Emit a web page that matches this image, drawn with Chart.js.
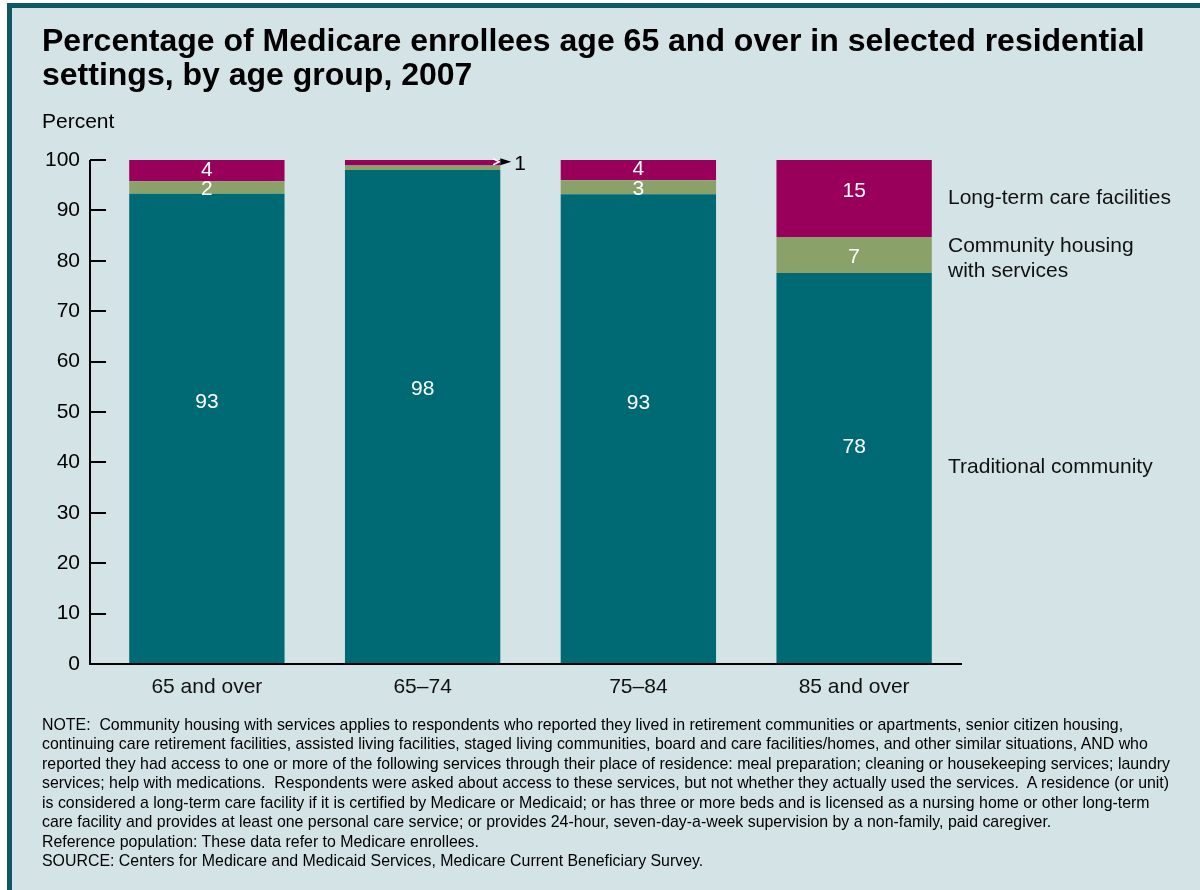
<!DOCTYPE html>
<html>
<head>
<meta charset="utf-8">
<script src="https://cdn.jsdelivr.net/npm/chart.js@4.4.1/dist/chart.umd.min.js"></script>
<style>
  html, body { margin: 0; padding: 0; background: #ffffff; }
  body { width: 1200px; height: 890px; position: relative; overflow: hidden; font-family: "Liberation Sans", Arial, sans-serif; }
  #panel { position: absolute; left: 7px; top: 3px; width: 1188px; height: 882px; background: #D4E3E6;
           border-top: 5px solid #0D5862; border-left: 5px solid #0D5862; }
  #chartWrap { position: absolute; left: 0; top: 0; width: 1200px; height: 890px; }
  .t { position: absolute; white-space: pre; color: #000; }
  #title { left: 42px; top: 23px; font-weight: bold; font-size: 32px; line-height: 34px; color: #000; }
  #note { left: 42px; top: 715px; font-size: 15.9px; line-height: 19.45px; color: #000; }
</style>
</head>
<body>
<div id="panel"></div>
<div id="chartWrap"><canvas id="c" width="1200" height="890"></canvas></div>
<div class="t" id="title">Percentage of Medicare enrollees age 65 and over in selected residential
settings, by age group, 2007</div>
<div class="t" id="note">NOTE:  Community housing with services applies to respondents who reported they lived in retirement communities or apartments, senior citizen housing,
continuing care retirement facilities, assisted living facilities, staged living communities, board and care facilities/homes, and other similar situations, AND who
reported they had access to one or more of the following services through their place of residence: meal preparation; cleaning or housekeeping services; laundry
services; help with medications.  Respondents were asked about access to these services, but not whether they actually used the services.  A residence (or unit)
is considered a long-term care facility if it is certified by Medicare or Medicaid; or has three or more beds and is licensed as a nursing home or other long-term
care facility and provides at least one personal care service; or provides 24-hour, seven-day-a-week supervision by a non-family, paid caregiver.
Reference population: These data refer to Medicare enrollees.
SOURCE: Centers for Medicare and Medicaid Services, Medicare Current Beneficiary Survey.</div>
<script>
// ---- Data ----
const categories = ["65 and over", "65\u201374", "75\u201384", "85 and over"];
const traditional = [93.3, 98.0, 93.2, 77.6];
const communityHousing = [2.5, 0.9, 2.8, 7.1];
const longTermCare = [4.2, 1.1, 4.0, 15.3];
const traditionalLabels = ["93", "98", "93", "78"];
const communityLabels = ["2", "", "3", "7"];
const longTermLabels = ["4", "1", "4", "15"];
const seriesNames = ["Traditional community", "Community housing\nwith services", "Long-term care facilities"];
const yTicks = [0, 10, 20, 30, 40, 50, 60, 70, 80, 90, 100];

const COL_TEAL = "#006A74";
const COL_GREEN = "#8AA26A";
const COL_MAG = "#99005C";
const FONT = '"Liberation Sans", Arial, sans-serif';
const FS = 21;

const decorPlugin = {
  id: "decor",
  afterDraw(chart) {
    const ctx = chart.ctx;
    const y = chart.scales.y;
    const axisX = 90;
    ctx.save();
    // axes
    ctx.strokeStyle = "#000";
    ctx.lineWidth = 2;
    ctx.beginPath();
    ctx.moveTo(axisX, y.getPixelForValue(100));
    ctx.lineTo(axisX, y.getPixelForValue(0));
    ctx.lineTo(chart.chartArea.right, y.getPixelForValue(0));
    ctx.stroke();
    yTicks.forEach(v => {
      const py = Math.round(y.getPixelForValue(v));
      ctx.beginPath();
      ctx.moveTo(axisX, py);
      ctx.lineTo(axisX + 16, py);
      ctx.stroke();
    });
    // segment labels
    ctx.font = FS + "px " + FONT;
    ctx.textAlign = "center";
    ctx.textBaseline = "middle";
    const labelSets = [traditionalLabels, communityLabels, longTermLabels];
    const fracs = [0.56, 0.5, 0.62];
    chart.data.datasets.forEach((ds, di) => {
      const meta = chart.getDatasetMeta(di);
      meta.data.forEach((bar, i) => {
        const txt = labelSets[di][i];
        if (!txt) return;
        const base = bar.base, top = bar.y;
        const h = base - top;
        if (h < 12) {
          // outside annotation with arrow
          const right = bar.x + bar.width / 2;
          const cy = (top + base) / 2 - 1;
          ctx.strokeStyle = "#fff";
          ctx.lineWidth = 1.5;
          ctx.beginPath();
          ctx.moveTo(right - 7, cy - 3);
          ctx.lineTo(right - 1, cy);
          ctx.lineTo(right - 7, cy + 3);
          ctx.stroke();
          ctx.fillStyle = "#000";
          ctx.beginPath();
          ctx.moveTo(right, cy - 3.5);
          ctx.lineTo(right + 11, cy);
          ctx.lineTo(right, cy + 3.5);
          ctx.closePath();
          ctx.fill();
          ctx.textAlign = "left";
          ctx.fillText(txt, right + 14, cy + 2);
          ctx.textAlign = "center";
          return;
        }
        ctx.fillStyle = "#fff";
        ctx.fillText(txt, bar.x, base - h * fracs[di] + 2);
      });
    });
    // series labels at right
    ctx.fillStyle = "#111";
    ctx.textAlign = "left";
    const lx = 948;
    const last = categories.length - 1;
    const tradMeta = chart.getDatasetMeta(0).data[last];
    const commMeta = chart.getDatasetMeta(1).data[last];
    const ltcMeta = chart.getDatasetMeta(2).data[last];
    const drawLines = (name, cy) => {
      const lines = name.split("\n");
      const lh = 25;
      const start = cy - (lines.length - 1) * lh / 2;
      lines.forEach((l, k) => ctx.fillText(l, lx, start + k * lh));
    };
    drawLines(seriesNames[2], ltcMeta.y + (ltcMeta.base - ltcMeta.y) * 0.47 + 2);
    drawLines(seriesNames[1], (commMeta.y + commMeta.base) / 2 + 3.5);
    drawLines(seriesNames[0], tradMeta.base - (tradMeta.base - tradMeta.y) * 0.51 + 3);
    // Percent label
    ctx.fillStyle = "#000";
    ctx.fillText("Percent", 42, 122);
    ctx.restore();
  }
};

new Chart(document.getElementById("c"), {
  type: "bar",
  data: {
    labels: categories,
    datasets: [
      { label: seriesNames[0], data: traditional, backgroundColor: COL_TEAL },
      { label: seriesNames[1], data: communityHousing, backgroundColor: COL_GREEN },
      { label: seriesNames[2], data: longTermCare, backgroundColor: COL_MAG }
    ]
  },
  options: {
    responsive: false,
    animation: false,
    layout: { padding: { left: 0, right: 238, top: 160, bottom: 0 } },
    datasets: { bar: { categoryPercentage: 1, barPercentage: 0.72, borderWidth: 0 } },
    plugins: { legend: { display: false }, tooltip: { enabled: false }, title: { display: false } },
    scales: {
      x: {
        stacked: true,
        grid: { display: false, drawTicks: false },
        border: { display: false },
        ticks: { color: "#111", font: { family: FONT, size: FS }, padding: 11, maxRotation: 0 },
        afterFit: s => { s.height = 226; }
      },
      y: {
        stacked: true,
        min: 0, max: 100,
        afterBuildTicks: s => { s.ticks = yTicks.map(v => ({ value: v })); },
        grid: { display: false, drawTicks: false },
        border: { display: false },
        ticks: { color: "#000", font: { family: FONT, size: FS }, padding: 19 },
        afterFit: s => { s.width = 99; }
      }
    }
  },
  plugins: [decorPlugin]
});
</script>
</body>
</html>
